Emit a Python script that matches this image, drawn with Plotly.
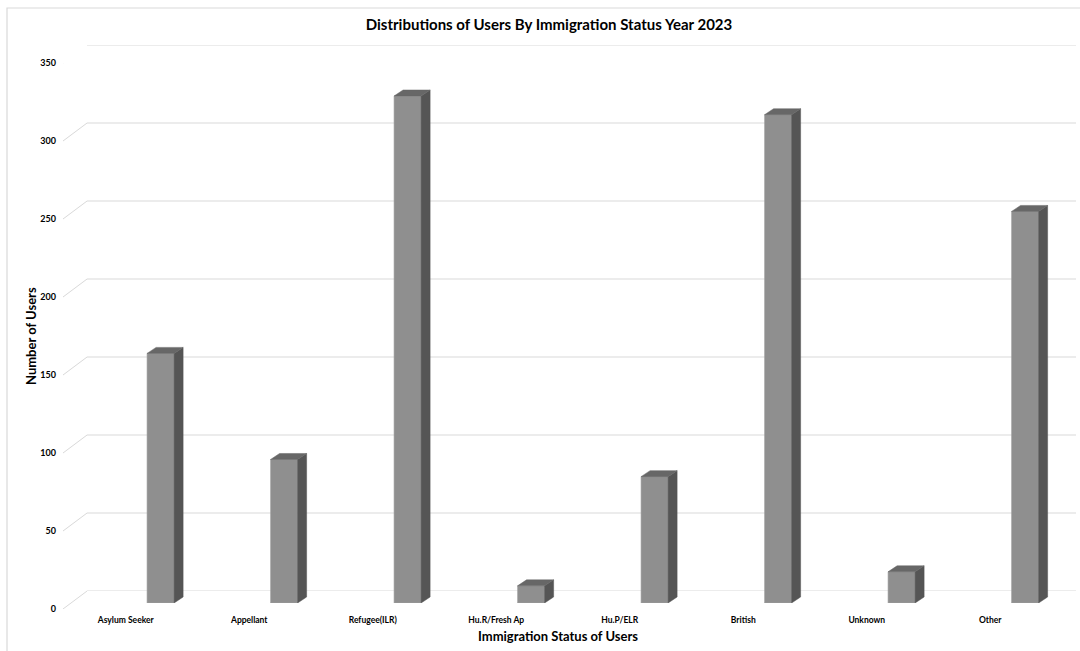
import plotly.graph_objects as go

# ---------------- data ----------------
categories = ["Asylum Seeker", "Appellant", "Refugee(ILR)", "Hu.R/Fresh Ap",
              "Hu.P/ELR", "British", "Unknown", "Other"]
users = [160, 92, 325, 11, 81, 313, 20, 251]
y_ticks = [0, 50, 100, 150, 200, 250, 300, 350]

# ---------------- geometry helpers (pixel -> paper fraction) ----------------
W, H = 1080, 651
def fx(p):
    return p / W
def fy(p):
    return 1 - p / H

FONT = "Lato"
FRONT = "#8f8f8f"
SIDE = "#555555"
TOP = "#676767"
GRID = "#d9d9d9"

xs = list(range(len(categories)))
shift = 0.282        # bar sits deeper (to the right) than the front label
bw = 0.219           # bar front width (category units)
ddx = 0.073          # depth offset in x (category units)
ddy = 3.85           # depth offset in y (value units)

fig = go.Figure()

# front faces
fig.add_trace(go.Bar(
    x=[i + shift for i in xs], y=users, width=bw,
    marker=dict(color=FRONT, line=dict(color="#a3a3a3", width=0.6)),
    xaxis="x", yaxis="y3", hovertext=categories, name="Number of Users",
    showlegend=False))

# side faces and top faces built from the values
side_x, side_y, top_x, top_y = [], [], [], []
for i, v in zip(xs, users):
    xl = i + shift - bw / 2
    xr = i + shift + bw / 2
    side_x += [xr, xr + ddx, xr + ddx, xr, xr, None]
    side_y += [0, ddy, v + ddy, v, 0, None]
    top_x += [xl, xr, xr + ddx, xl + ddx, xl, None]
    top_y += [v, v, v + ddy, v + ddy, v, None]

fig.add_trace(go.Scatter(x=side_x, y=side_y, mode="lines", fill="toself",
                         fillcolor=SIDE, line=dict(color=SIDE, width=0.5),
                         xaxis="x", yaxis="y3", hoverinfo="skip", showlegend=False))
fig.add_trace(go.Scatter(x=top_x, y=top_y, mode="lines", fill="toself",
                         fillcolor=TOP, line=dict(color=TOP, width=0.5),
                         xaxis="x", yaxis="y3", hoverinfo="skip", showlegend=False))
# dummy trace for the back-wall axis
fig.add_trace(go.Scatter(x=[None], y=[None], xaxis="x2", yaxis="y2",
                         hoverinfo="skip", showlegend=False))

shapes = []
# back-wall gridlines and side-wall diagonals
for v in y_ticks:
    shapes.append(dict(type="line", xref="paper", yref="y2", layer="below",
                       x0=fx(87), x1=fx(1076), y0=v, y1=v,
                       line=dict(color=GRID, width=1.2)))
    shapes.append(dict(type="line", xref="paper", yref="y", layer="below",
                       x0=fx(63), x1=fx(87), y0=v, y1=v + 11.5,
                       line=dict(color=GRID, width=1)))
# outer chart border
shapes.append(dict(type="rect", xref="paper", yref="paper", layer="below",
                   x0=fx(7), x1=1.05, y0=-0.05, y1=fy(8),
                   line=dict(color=GRID, width=1.2), fillcolor="rgba(0,0,0,0)"))

fig.update_layout(
    width=W, height=H,
    margin=dict(l=0, r=0, t=0, b=0, pad=0, autoexpand=False),
    paper_bgcolor="white", plot_bgcolor="rgba(0,0,0,0)",
    showlegend=False,
    title=dict(text="<b>Distributions of Users By Immigration Status Year 2023</b>",
               x=fx(549), xanchor="center", y=fy(25), yanchor="middle",
               yref="paper", automargin=False,
               font=dict(family=FONT, size=15, color="#000000")),
    xaxis=dict(domain=[fx(64), fx(1052)], range=[-0.5, len(categories) - 0.5],
               anchor="y", tickmode="array", tickvals=xs, ticktext=categories,
               showgrid=False, zeroline=False, showline=False, ticks="",
               ticklabelstandoff=4, automargin=False,
               tickfont=dict(family=FONT, size=8.5, color="#000000", weight="bold")),
    yaxis=dict(domain=[fy(609), fy(63)], range=[0, 350], anchor="x",
               tickmode="array", tickvals=y_ticks,
               showgrid=False, zeroline=False, showline=False, ticks="",
               ticklabelstandoff=7, automargin=False,
               tickfont=dict(family=FONT, size=9, color="#000000", weight="bold")),
    xaxis2=dict(domain=[fx(87), fx(1076)], range=[0, 1], anchor="y2",
                visible=False, showgrid=False, zeroline=False, automargin=False),
    yaxis2=dict(domain=[fy(591), fy(45)], range=[0, 350], anchor="x2",
                visible=False, showgrid=False, zeroline=False, automargin=False),
    yaxis3=dict(domain=[fy(603), fy(57)], range=[0, 350], anchor="x",
                visible=False, showgrid=False, zeroline=False, automargin=False),
    shapes=shapes,
    annotations=[
        dict(text="<b>Number of Users</b>", textangle=-90, xref="paper", yref="paper",
             x=fx(31), y=fy(336), xanchor="center", yanchor="middle", showarrow=False,
             font=dict(family=FONT, size=13, color="#000000")),
        dict(text="<b>Immigration Status of Users</b>", xref="paper", yref="paper",
             x=fx(558), y=fy(636), xanchor="center", yanchor="middle", showarrow=False,
             font=dict(family=FONT, size=13, color="#000000")),
    ],
)

fig.write_html("out.html", config={"displayModeBar": False},
               post_script="document.body.style.margin='0';document.body.style.overflow='hidden';")
